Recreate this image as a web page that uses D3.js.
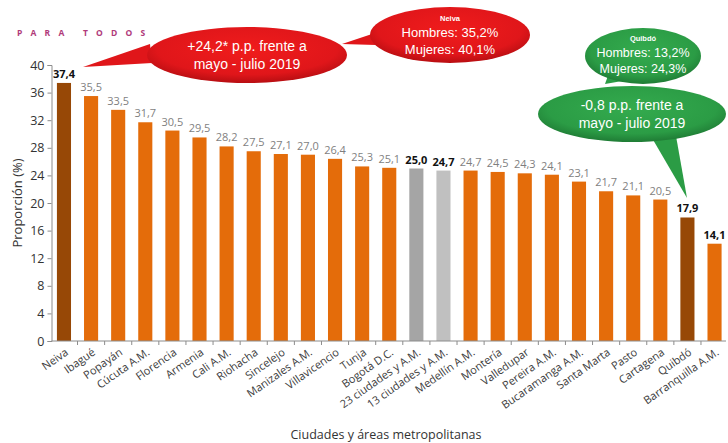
<!DOCTYPE html>
<html>
<head>
<meta charset="utf-8">
<script src="https://cdn.jsdelivr.net/npm/d3@7"></script>
<style>
  body { margin: 0; background: #fff; }
  svg { display: block; }
</style>
</head>
<body>
<div id="wrapper"></div>
<script>
const cities = ['Neiva', 'Ibagué', 'Popayán', 'Cúcuta A.M.', 'Florencia', 'Armenia', 'Cali A.M.',
    'Riohacha', 'Sincelejo', 'Manizales A.M.', 'Villavicencio', 'Tunja', 'Bogotá  D.C.',
    '23 ciudades y A.M.', '13 ciudades y A.M.', 'Medellín A.M.', 'Montería', 'Valledupar',
    'Pereira A.M.', 'Bucaramanga A.M.', 'Santa Marta', 'Pasto', 'Cartagena', 'Quibdó',
    'Barranquilla A.M.']
const values = [37.4, 35.5, 33.5, 31.7, 30.5, 29.5, 28.2, 27.5, 27.1, 27.0, 26.4, 25.3, 25.1,
    25.0, 24.7, 24.7, 24.5, 24.3, 24.1, 23.1, 21.7, 21.1, 20.5, 17.9, 14.1]
// which bars are highlighted
const highlight = ['Neiva', 'Quibdó']
const aggregates = ['23 ciudades y A.M.', '13 ciudades y A.M.']
const boldLabels = ['Neiva', '23 ciudades y A.M.', '13 ciudades y A.M.', 'Quibdó', 'Barranquilla A.M.']
const yTicks = [0, 4, 8, 12, 16, 20, 24, 28, 32, 36, 40]

const data = cities.map((c, i) => ({ city: c, value: values[i] }))

const dimensions = {
    width: 728,
    height: 443,
    margin: { top: 65, right: 2, bottom: 102, left: 51.5 }
}
dimensions.boundedWidth = dimensions.width - dimensions.margin.left - dimensions.margin.right
dimensions.boundedHeight = dimensions.height - dimensions.margin.top - dimensions.margin.bottom

const svg = d3.select('#wrapper').append('svg')
    .attr('width', dimensions.width)
    .attr('height', dimensions.height)
    .style('font-family', "'Open Sans', 'Noto Sans', sans-serif")

const defs = svg.append('defs')
const redGrad = defs.append('radialGradient').attr('id', 'redGrad')
    .attr('cx', '50%').attr('cy', '40%').attr('r', '60%')
redGrad.append('stop').attr('offset', '0%').attr('stop-color', '#f01c1c')
redGrad.append('stop').attr('offset', '75%').attr('stop-color', '#e0161a')
redGrad.append('stop').attr('offset', '100%').attr('stop-color', '#b80e12')
const greenGrad = defs.append('radialGradient').attr('id', 'greenGrad')
    .attr('cx', '50%').attr('cy', '40%').attr('r', '60%')
greenGrad.append('stop').attr('offset', '0%').attr('stop-color', '#34ab4e')
greenGrad.append('stop').attr('offset', '75%').attr('stop-color', '#2b9c45')
greenGrad.append('stop').attr('offset', '100%').attr('stop-color', '#1f7c35')

const bounds = svg.append('g')
    .attr('transform', `translate(${dimensions.margin.left}, ${dimensions.margin.top})`)

const xScale = d3.scaleBand()
    .domain(cities)
    .range([0, dimensions.boundedWidth + 1])
    .paddingInner(0.48)
    .paddingOuter(0.2)

const yScale = d3.scaleLinear()
    .domain([0, 40])
    .range([dimensions.boundedHeight, 0])

const barColor = (d) => {
    if (highlight.includes(d.city)) return '#974806'
    if (d.city === aggregates[0]) return '#a5a5a5'
    if (d.city === aggregates[1]) return '#c0c0c0'
    return '#e46c0a'
}

bounds.selectAll('rect.bar')
    .data(data)
    .join('rect')
    .attr('class', 'bar')
    .attr('x', d => xScale(d.city))
    .attr('y', d => yScale(d.value))
    .attr('width', xScale.bandwidth())
    .attr('height', d => dimensions.boundedHeight - yScale(d.value))
    .attr('fill', barColor)

bounds.selectAll('text.val')
    .data(data)
    .join('text')
    .attr('class', 'val')
    .attr('x', d => xScale(d.city) + xScale.bandwidth() / 2)
    .attr('y', d => yScale(d.value) - 5)
    .attr('text-anchor', 'middle')
    .attr('font-size', 11)
    .attr('font-weight', d => boldLabels.includes(d.city) ? 'bold' : 'normal')
    .attr('fill', d => boldLabels.includes(d.city) ? '#111' : '#7f7f7f')
    .text(d => d3.format('.1f')(d.value).replace('.', ','))

// y axis
const yAxis = bounds.append('g')
    .call(d3.axisLeft(yScale).tickValues(yTicks).tickSize(4).tickSizeOuter(4))
yAxis.select('.domain').attr('stroke', '#8c8c8c')
yAxis.selectAll('.tick line').attr('stroke', '#8c8c8c')
yAxis.selectAll('.tick text')
    .attr('font-size', 12.5)
    .attr('fill', '#333')
    .attr('font-family', "'Open Sans', sans-serif")
    .attr('x', -7)

// x axis: baseline with ticks between categories
const step = xScale.step()
const xAxis = bounds.append('g')
    .attr('transform', `translate(0, ${dimensions.boundedHeight})`)
xAxis.append('line')
    .attr('x1', 0).attr('x2', dimensions.boundedWidth)
    .attr('stroke', '#8c8c8c')
xAxis.selectAll('line.sep')
    .data(cities.slice(1))
    .join('line')
    .attr('class', 'sep')
    .attr('x1', d => xScale(d) - step * xScale.paddingInner() / 2)
    .attr('x2', d => xScale(d) - step * xScale.paddingInner() / 2)
    .attr('y1', 0).attr('y2', 4)
    .attr('stroke', '#8c8c8c')
xAxis.selectAll('text.cat')
    .data(cities)
    .join('text')
    .attr('class', 'cat')
    .attr('transform', d => `translate(${xScale(d) + xScale.bandwidth() / 2 + 5}, 13) rotate(-35)`)
    .attr('text-anchor', 'end')
    .attr('font-size', 11)
    .attr('fill', '#404040')
    .text(d => d)

// axis titles
svg.append('text')
    .attr('transform', `translate(22, ${dimensions.margin.top + dimensions.boundedHeight / 2}) rotate(-90)`)
    .attr('text-anchor', 'middle')
    .attr('font-size', 13)
    .attr('fill', '#333')
    .text('Proporción (%)')

svg.append('text')
    .attr('x', 386)
    .attr('y', 439)
    .attr('text-anchor', 'middle')
    .attr('font-size', 12.5)
    .attr('fill', '#333')
    .text('Ciudades y áreas metropolitanas')

svg.append('text')
    .attr('x', 17)
    .attr('y', 36)
    .attr('font-size', 8.5)
    .attr('font-weight', 'bold')
    .attr('letter-spacing', 8.2)
    .attr('fill', '#b03a7a')
    .text('PARA TODOS')

// callouts
const callouts = [
    { cx: 247, cy: 55, rx: 100, ry: 28, fill: 'url(#redGrad)', base: '#e0161a',
      tail: [[150, 44], [83, 67], [152, 63]],
      lines: [{ t: '+24,2* p.p. frente a', s: 14, dy: -4 }, { t: 'mayo - julio 2019', s: 14, dy: 14 }] },
    { cx: 450, cy: 35, rx: 80, ry: 28, fill: 'url(#redGrad)', base: '#e0161a',
      tail: [[375, 33], [342, 44], [376, 45]],
      lines: [{ t: 'Neiva', s: 7.5, dy: -14, b: true }, { t: 'Hombres: 35,2%', s: 13, dy: 2 }, { t: 'Mujeres: 40,1%', s: 13, dy: 19 }] },
    { cx: 643, cy: 56, rx: 58, ry: 28, fill: 'url(#greenGrad)', base: '#2b9c45',
      tail: [[610, 70], [605, 84], [628, 80]],
      lines: [{ t: 'Quibdó', s: 7.5, dy: -15, b: true }, { t: 'Hombres: 13,2%', s: 12.5, dy: 1 }, { t: 'Mujeres: 24,3%', s: 12.5, dy: 17 }] },
    { cx: 632, cy: 114, rx: 94, ry: 28, fill: 'url(#greenGrad)', base: '#2b9c45',
      tail: [[652, 138], [687, 198], [676, 136]],
      lines: [{ t: '-0,8 p.p. frente a', s: 14, dy: -4 }, { t: 'mayo - julio 2019', s: 14, dy: 14 }] }
]

const cg = svg.selectAll('g.callout')
    .data(callouts)
    .join('g')
    .attr('class', 'callout')

cg.append('path')
    .attr('d', d => d3.line()(d.tail) + 'Z')
    .attr('fill', d => d.base)
cg.append('ellipse')
    .attr('cx', d => d.cx).attr('cy', d => d.cy)
    .attr('rx', d => d.rx).attr('ry', d => d.ry)
    .attr('fill', d => d.fill)

cg.each(function (d) {
    d3.select(this).selectAll('text')
        .data(d.lines)
        .join('text')
        .attr('x', d.cx)
        .attr('y', l => d.cy + l.dy)
        .attr('text-anchor', 'middle')
        .attr('font-family', "'Liberation Sans', Arial, sans-serif")
        .attr('font-size', l => l.s)
        .attr('font-weight', l => l.b ? 'bold' : 'normal')
        .attr('fill', '#fff')
        .text(l => l.t)
})
</script>
</body>
</html>
